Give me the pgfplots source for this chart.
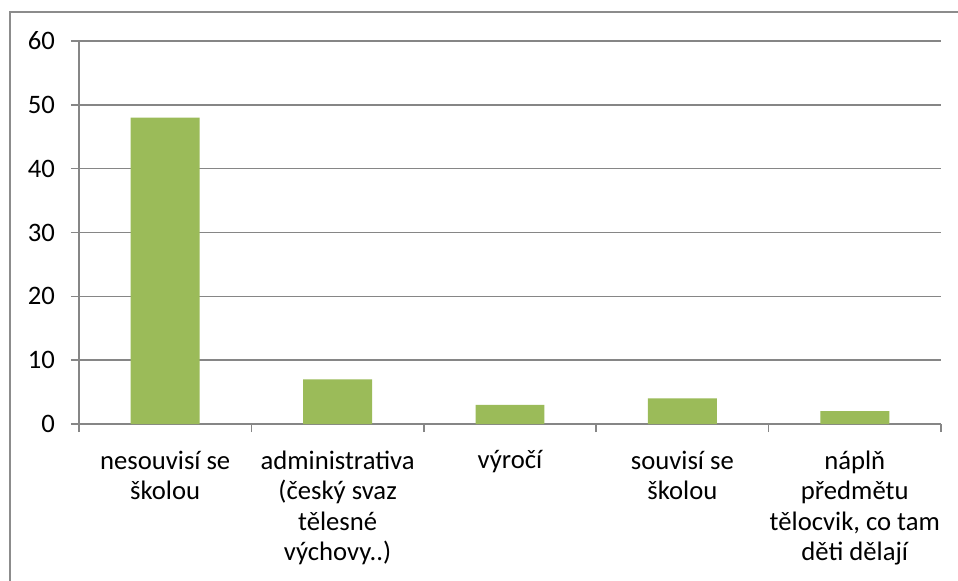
\documentclass[border=0pt]{standalone}
\usepackage{pgfplots}
\pgfplotsset{compat=1.18}
\usepackage{fontspec}
\setmainfont{Carlito}
\definecolor{bargreen}{HTML}{9BBB59}
\definecolor{axgray}{HTML}{868686}
\definecolor{bordergray}{HTML}{8C8C8C}
\begin{document}
\begin{tikzpicture}[x=0.75bp,y=0.75bp]
\useasboundingbox (0,0) rectangle (958,581);
\fill[white] (0,0) rectangle (958,581);
\draw[bordergray, line width=1.5bp] (10,0) -- (10,569) -- (958,569);
\begin{axis}[
  at={(59.25bp,117.75bp)}, anchor=south west,
  scale only axis,
  width=646.5bp, height=287.25bp,
  xmin=-0.5, xmax=4.5,
  ymin=0, ymax=60,
  ytick={0,10,...,60},
  axis x line*=bottom, axis y line*=left,
  axis line style={-, draw=axgray, line width=1.1bp},
  ymajorgrids,
  major grid style={draw=axgray, line width=1.1bp},
  tick align=outside,
  major tick length=6bp,
  tick style={draw=axgray, line width=1.1bp},
  xtick={-0.5,0.5,...,4.5},
  xticklabels={},
  extra x ticks={0,1,2,3,4},
  extra x tick labels={{nesouvisí se\\školou}, {administrativa\\(český svaz\\tělesné\\výchovy..)}, {výročí}, {souvisí se\\školou}, {náplň\\předmětu\\tělocvik, co tam\\děti dělají}},
  extra x tick style={major tick length=0pt, grid=none},
  xticklabel style={font=\fontsize{20bp}{22.9bp}\selectfont, align=center, anchor=north, yshift=-16.5bp},
  yticklabel style={font=\fontsize{20bp}{22.9bp}\selectfont, anchor=east, xshift=-8.5bp},
  /pgf/number format/assume math mode=true,
  bar width=0.4,
]
\addplot[ybar, fill=bargreen, draw=none] coordinates {(0,48) (1,7) (2,3) (3,4) (4,2)};
\end{axis}
\end{tikzpicture}
\end{document}
